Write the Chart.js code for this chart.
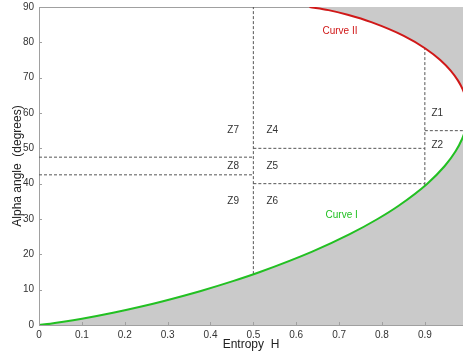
<!DOCTYPE html>
<html>
<head>
<meta charset="utf-8">
<script src="https://cdn.jsdelivr.net/npm/chart.js@4.4.0/dist/chart.umd.min.js"></script>
<style>
    html, body { margin: 0; padding: 0; background: #fff; overflow: hidden; }
    #chart { display: block; }
</style>
</head>
<body>
<canvas id="chart" width="463" height="354"></canvas>
<script>
// boundary curves of the H / alpha plane
const curveIH = [0, 0.0262, 0.0568, 0.1002, 0.1727, 0.2337, 0.2871, 0.3775, 0.4522, 0.5153, 0.6373, 0.7248, 0.7897, 0.8388, 0.9057, 0.9464, 0.9713, 0.9863, 0.9947, 0.9989, 1];
const curveIAlpha = [0, 0.36, 0.89, 1.76, 3.46, 5.09, 6.67, 9.64, 12.41, 15, 20.77, 25.71, 30, 33.75, 40, 45, 49.09, 52.5, 55.38, 57.86, 60];

const curveIIH = [0.6309, 0.6752, 0.7199, 0.7751, 0.8509, 0.9011, 0.9359, 0.9602, 0.977, 0.9883, 0.9952, 0.9989, 1];
const curveIIAlpha = [90, 89.11, 87.8, 85.71, 81.82, 78.26, 75, 72, 69.23, 66.67, 64.29, 62.07, 60];

// dashed zone borders: [start, end]
const zoneLineH = [[0.5, 0.5], [0.9, 0.9], [0.9, 0.994], [0.5, 0.9], [0.5, 0.9], [0, 0.5], [0, 0.5]];
const zoneLineAlpha = [[14.4, 90], [39.6, 78.3], [55, 55], [50, 50], [40, 40], [47.5, 47.5], [42.5, 42.5]];

const zoneNames = ['Z1', 'Z2', 'Z4', 'Z5', 'Z6', 'Z7', 'Z8', 'Z9'];
const zoneH = [0.929, 0.929, 0.544, 0.544, 0.544, 0.453, 0.453, 0.453];
const zoneAlpha = [60, 51, 55, 45, 35, 55, 45, 35];

const curveNames = ['Curve I', 'Curve II'];
const curveNameH = [0.706, 0.702];
const curveNameAlpha = [31, 83.2];

const xTicks = [0, 0.1, 0.2, 0.3, 0.4, 0.5, 0.6, 0.7, 0.8, 0.9];
const yTicks = [0, 10, 20, 30, 40, 50, 60, 70, 80, 90];
const xMax = 0.989; // the source picture is cut just before H = 1

const GREEN = '#22c022';
const RED = '#d01818';
const SHADE = '#cacaca';
const AXIS = '#a0a0a0';
const FONT = '"Liberation Sans", Arial, sans-serif';

function toPoints(xs, ys) {
    return xs.map((x, i) => ({ x: x, y: ys[i] }));
}

const datasets = [
    {
        data: toPoints(curveIH, curveIAlpha),
        borderColor: GREEN,
        borderWidth: 2,
        backgroundColor: SHADE,
        fill: 'origin',
        cubicInterpolationMode: 'monotone'
    },
    {
        data: toPoints(curveIIH, curveIIAlpha),
        borderColor: RED,
        borderWidth: 2,
        backgroundColor: SHADE,
        fill: 'end',
        cubicInterpolationMode: 'monotone'
    }
];

zoneLineH.forEach((xs, i) => {
    datasets.push({
        data: toPoints(xs, zoneLineAlpha[i]),
        borderColor: '#555',
        borderWidth: 1,
        borderDash: [3, 2],
        fill: false
    });
});

// labels, box top line and inner tick marks
const decor = {
    id: 'decor',
    beforeDatasetsDraw(chart) {
        const { ctx, chartArea } = chart;
        ctx.save();
        ctx.strokeStyle = AXIS;
        ctx.lineWidth = 1;
        ctx.beginPath();
        ctx.moveTo(chartArea.left, chartArea.top + 0.5);
        ctx.lineTo(chartArea.right, chartArea.top + 0.5);
        ctx.stroke();
        ctx.restore();
    },
    afterDatasetsDraw(chart) {
        const { ctx, chartArea, scales } = chart;
        const x = scales.x, y = scales.y;
        ctx.save();
        ctx.strokeStyle = AXIS;
        ctx.lineWidth = 1;
        ctx.beginPath();
        yTicks.forEach(v => {
            const py = Math.round(y.getPixelForValue(v)) + 0.5;
            ctx.moveTo(chartArea.left, py);
            ctx.lineTo(chartArea.left + 3, py);
        });
        xTicks.forEach(v => {
            const px = Math.round(x.getPixelForValue(v)) + 0.5;
            ctx.moveTo(px, chartArea.bottom);
            ctx.lineTo(px, chartArea.bottom - 3);
        });
        ctx.stroke();

        ctx.font = '10px ' + FONT;
        ctx.textAlign = 'center';
        ctx.textBaseline = 'middle';
        ctx.fillStyle = '#333';
        zoneNames.forEach((name, i) => {
            ctx.fillText(name, x.getPixelForValue(zoneH[i]), y.getPixelForValue(zoneAlpha[i]));
        });
        [GREEN, RED].forEach((c, i) => {
            ctx.fillStyle = c;
            ctx.fillText(curveNames[i], x.getPixelForValue(curveNameH[i]), y.getPixelForValue(curveNameAlpha[i]));
        });
        ctx.restore();
    }
};

new Chart(document.getElementById('chart'), {
    type: 'scatter',
    data: { datasets: datasets },
    options: {
        responsive: false,
        animation: false,
        showLine: true,
        layout: { padding: { top: 7, right: 0, left: 0, bottom: 0 } },
        elements: { point: { radius: 0, hoverRadius: 0 } },
        plugins: { legend: { display: false }, tooltip: { enabled: false } },
        scales: {
            x: {
                type: 'linear',
                min: 0,
                max: xMax,
                afterFit(scale) {
                    scale.height = 29;
                    scale.paddingLeft = 0;
                    scale.paddingRight = 0;
                },
                afterBuildTicks(scale) { scale.ticks = xTicks.map(v => ({ value: v })); },
                grid: { display: false, drawTicks: false },
                border: { display: true, color: AXIS },
                ticks: {
                    padding: 4,
                    color: '#333',
                    font: { family: FONT, size: 10 },
                    maxRotation: 0,
                    autoSkip: false
                },
                title: {
                    display: true,
                    text: 'Entropy  H',
                    color: '#222',
                    font: { family: FONT, size: 12 },
                    padding: { top: 0, bottom: 2 }
                }
            },
            y: {
                type: 'linear',
                min: 0,
                max: 90,
                afterFit(scale) {
                    scale.width = 39;
                    scale.paddingTop = 0;
                    scale.paddingBottom = 0;
                },
                afterBuildTicks(scale) { scale.ticks = yTicks.map(v => ({ value: v })); },
                grid: { display: false, drawTicks: false },
                border: { display: true, color: AXIS },
                ticks: {
                    padding: 5,
                    color: '#333',
                    font: { family: FONT, size: 10 }
                },
                title: {
                    display: true,
                    text: 'Alpha angle  (degrees)',
                    color: '#222',
                    font: { family: FONT, size: 12 },
                    padding: { top: 10, bottom: 0 }
                }
            }
        }
    },
    plugins: [decor]
});
</script>
</body>
</html>
